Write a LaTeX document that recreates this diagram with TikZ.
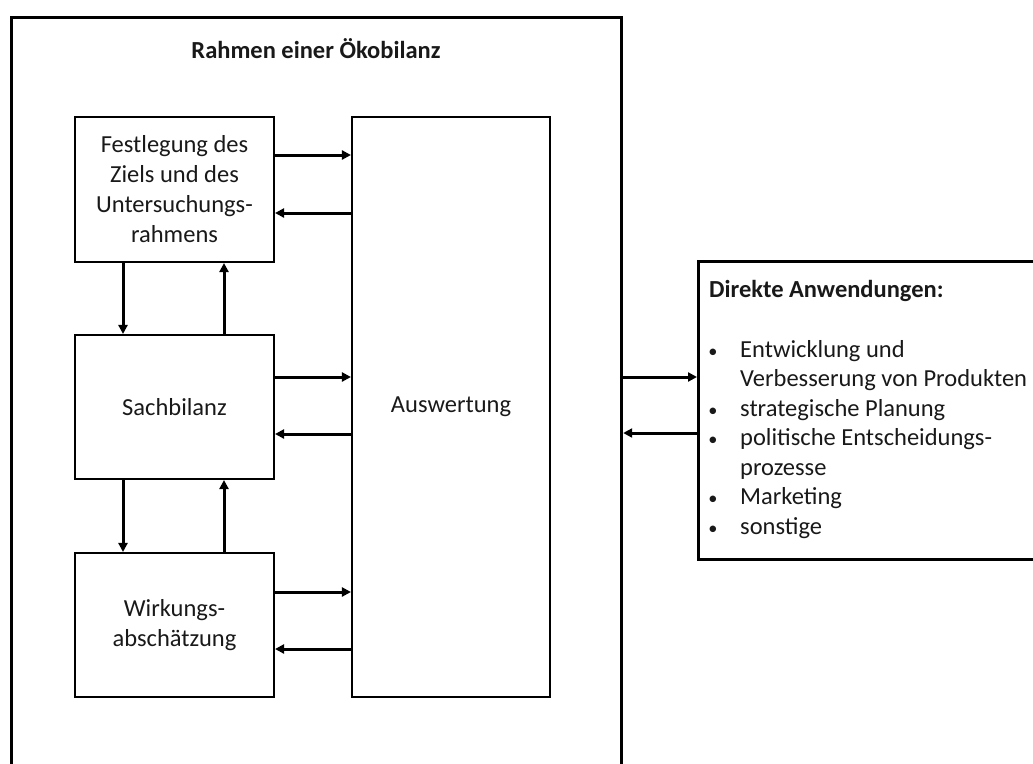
\documentclass[tikz,border=0pt]{standalone}
\usepackage{fontspec}
\setmainfont{Carlito}
\usetikzlibrary{arrows.meta}
\begin{document}
\begin{tikzpicture}[x=1pt,y=-1pt,
  txt/.style={font=\fontsize{24.5}{30}\selectfont, text=black!90},
  box/.style={draw, line width=2.1pt, align=center, inner sep=0pt, txt},
  conn/.style={line width=3pt, -{Triangle[length=9pt,width=9pt]}},
  item/.style={anchor=base west, inner sep=0pt, txt},
  bul/.style={anchor=base, inner sep=0pt, txt}]
\useasboundingbox (0,0) rectangle (1033,763);
\node[draw, line width=3.2pt, anchor=north west, minimum width=610pt, minimum height=800pt, inner sep=0pt] (frame) at (10,16) {};
\node[txt, font=\fontsize{24.5}{30}\selectfont\bfseries, anchor=base, inner sep=0pt] (title) at (316,58) {Rahmen einer Ökobilanz};
\node[box, minimum width=199pt, minimum height=145pt] (b1) at (174.5,189.5) {Festlegung des\\Ziels und des\\Untersuchungs-\\rahmens};
\node[box, minimum width=199pt, minimum height=144pt] (b2) at (174.5,407) {Sachbilanz};
\node[box, minimum width=199pt, minimum height=144pt] (b3) at (174.5,625) {Wirkungs-\\abschätzung};
\node[box, minimum width=198pt, minimum height=580pt] (aus) at (451,407) {Auswertung};
\node[draw, line width=3.2pt, anchor=north west, minimum width=420pt, minimum height=298pt, inner sep=0pt] (apps) at (697,260) {};
% connectors
\draw[conn] (b1.east |- 0,155) -- (aus.west |- 0,155);
\draw[conn] (aus.west |- 0,213) -- (b1.east |- 0,213);
\draw[conn] (b2.east |- 0,377) -- (aus.west |- 0,377);
\draw[conn] (aus.west |- 0,434) -- (b2.east |- 0,434);
\draw[conn] (b3.east |- 0,592) -- (aus.west |- 0,592);
\draw[conn] (aus.west |- 0,649) -- (b3.east |- 0,649);
\draw[conn] (b1.south -| 123,0) -- (b2.north -| 123,0);
\draw[conn] (b2.north -| 224,0) -- (b1.south -| 224,0);
\draw[conn] (b2.south -| 123,0) -- (b3.north -| 123,0);
\draw[conn] (b3.north -| 224,0) -- (b2.south -| 224,0);
\draw[conn] (frame.east |- 0,377) -- (apps.west |- 0,377);
\draw[conn] (apps.west |- 0,433) -- (frame.east |- 0,433);
% list
\node[item, font=\fontsize{24.5}{30}\selectfont\bfseries] (dt) at (709,297) {Direkte Anwendungen:};
\node[bul] (p1) at (713,357) {\scalebox{0.75}{\textbullet}};
\node[item] (l1) at (740,357) {Entwicklung und};
\node[item] (l2) at (740,386.5) {Verbesserung von Produkten};
\node[bul] (p2) at (713,416) {\scalebox{0.75}{\textbullet}};
\node[item] (l3) at (740,416) {strategische Planung};
\node[bul] (p3) at (713,445.5) {\scalebox{0.75}{\textbullet}};
\node[item] (l4) at (740,445.5) {politische Entscheidungs-};
\node[item] (l5) at (740,475) {prozesse};
\node[bul] (p4) at (713,504.5) {\scalebox{0.75}{\textbullet}};
\node[item] (l6) at (740,504.5) {Marketing};
\node[bul] (p5) at (713,534) {\scalebox{0.75}{\textbullet}};
\node[item] (l7) at (740,534) {sonstige};
\end{tikzpicture}
\end{document}
